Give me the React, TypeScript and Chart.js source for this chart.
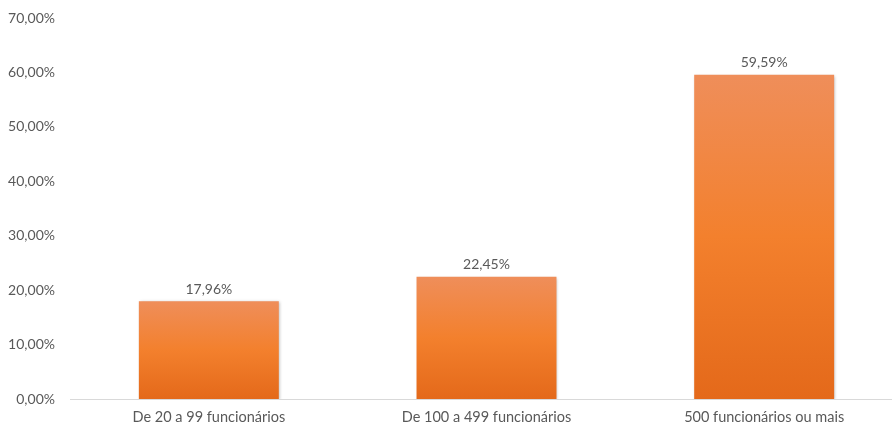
import React, { useEffect, useRef } from "react";
import { Chart, registerables } from "chart.js";

Chart.register(...registerables);

const categories: string[] = [
  "De 20 a 99 funcionários",
  "De 100 a 499 funcionários",
  "500 funcionários ou mais",
];
const values: number[] = [17.96, 22.45, 59.59];
const yTicks: number[] = [0, 10, 20, 30, 40, 50, 60, 70];

const FONT = "Lato, 'Liberation Sans', sans-serif";
const TEXT = "#595959";

const fmt = (v: number) => v.toFixed(2).replace(".", ",") + "%";

const valueLabels = {
  id: "valueLabels",
  afterDatasetsDraw(chart: any) {
    const ctx = chart.ctx;
    const meta = chart.getDatasetMeta(0);
    ctx.save();
    ctx.font = `14px ${FONT}`;
    ctx.fillStyle = TEXT;
    ctx.textAlign = "center";
    ctx.textBaseline = "bottom";
    meta.data.forEach((bar: any, i: number) => {
      ctx.fillText(fmt(values[i]), bar.x, bar.y - 5);
    });
    ctx.restore();
  },
};

const barShadow = {
  id: "barShadow",
  beforeDatasetDraw(chart: any) {
    const ctx = chart.ctx;
    ctx.save();
    ctx.shadowColor = "rgba(0,0,0,0.28)";
    ctx.shadowBlur = 3;
    ctx.shadowOffsetX = 1;
    ctx.shadowOffsetY = 1;
  },
  afterDatasetDraw(chart: any) {
    chart.ctx.restore();
  },
};

export default function App() {
  const ref = useRef<HTMLCanvasElement | null>(null);

  useEffect(() => {
    if (!ref.current) return;
    const chart = new Chart(ref.current, {
      type: "bar",
      data: {
        labels: categories,
        datasets: [
          {
            data: values,
            backgroundColor: (c: any) => {
              const chartObj = c.chart;
              const y = chartObj.scales?.y;
              if (!y || c.dataIndex === undefined) return "#F2822E";
              const top = y.getPixelForValue(values[c.dataIndex]);
              const bottom = y.getPixelForValue(0);
              if (!isFinite(top) || !isFinite(bottom) || top === bottom) return "#F2822E";
              const g = chartObj.ctx.createLinearGradient(0, top, 0, bottom);
              g.addColorStop(0, "#EF8E5A");
              g.addColorStop(0.5, "#F3802D");
              g.addColorStop(1, "#E4691A");
              return g;
            },
            borderWidth: 0,
            categoryPercentage: 1,
            barPercentage: 0.504,
          },
        ],
      },
      options: {
        responsive: false,
        animation: false,
        devicePixelRatio: 1,
        layout: { padding: { top: 18, right: 7, left: 0, bottom: 0 } },
        plugins: {
          legend: { display: false },
          tooltip: { enabled: false },
        },
        scales: {
          x: {
            grid: { display: false, drawTicks: false },
            border: { display: true, color: "#D9D9D9", width: 1 },
            ticks: {
              color: TEXT,
              font: { family: FONT, size: 14.5 },
              padding: 10,
              maxRotation: 0,
            },
            afterFit: (s: any) => {
              s.height = 27;
              s.paddingTop = 0;
              s.paddingBottom = 0;
            },
          },
          y: {
            min: 0,
            max: 70,
            afterBuildTicks: (s: any) => {
              s.ticks = yTicks.map((v) => ({ value: v }));
            },
            grid: { display: false, drawTicks: false },
            border: { display: false },
            ticks: {
              color: TEXT,
              font: { family: FONT, size: 14 },
              padding: 15,
              callback: (v: any) => fmt(Number(v)),
            },
            afterFit: (s: any) => {
              s.width = 70;
              s.paddingTop = 0;
              s.paddingBottom = 0;
            },
          },
        },
      },
      plugins: [barShadow, valueLabels],
    });
    return () => chart.destroy();
  }, []);

  return (
    <div
      style={{
        position: "fixed",
        left: 0,
        top: 0,
        width: 892,
        height: 426,
        overflow: "hidden",
        background: "#fff",
      }}
    >
      <canvas
        ref={ref}
        width={910}
        height={426}
        style={{ width: 910, height: 426, display: "block" }}
      />
    </div>
  );
}
